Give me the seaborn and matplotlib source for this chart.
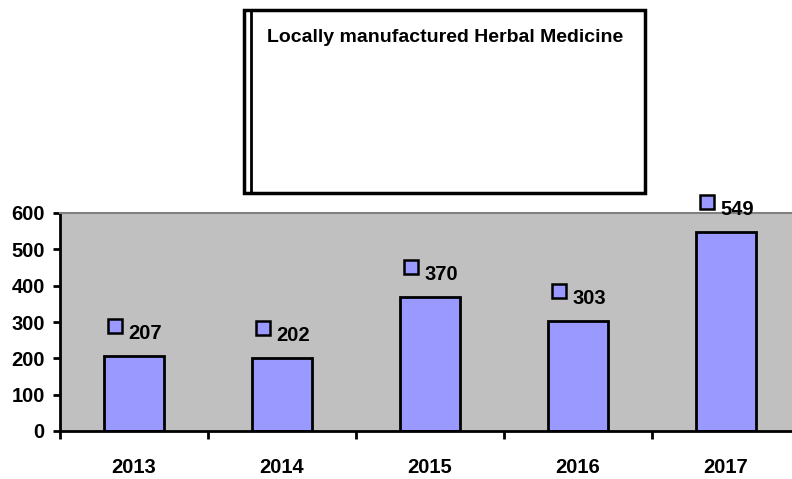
"""Bar chart: locally manufactured herbal medicine by year."""

import matplotlib
matplotlib.use("Agg")
import matplotlib.pyplot as plt
import matplotlib.transforms as mtransforms
from matplotlib.patches import Rectangle
from matplotlib.lines import Line2D
import seaborn as sns

years = ["2013", "2014", "2015", "2016", "2017"]
counts = [207, 202, 370, 303, 549]
title = "Locally manufactured Herbal Medicine"
y_ticks = [0, 100, 200, 300, 400, 500, 600]

BAR_COLOR = "#9999FF"
PLOT_BG = "#C0C0C0"
FONT_SIZE = 14.5

sns.set_style("ticks")
plt.rcParams["font.family"] = ["Liberation Sans", "DejaVu Sans"]
plt.rcParams["font.weight"] = "bold"
plt.rcParams["text.color"] = "black"
plt.rcParams["xtick.color"] = "black"
plt.rcParams["ytick.color"] = "black"

fig = plt.figure(figsize=(7.92, 4.79), dpi=100)
ax = fig.add_axes([60 / 792, 48 / 479, 740 / 792, 218 / 479])
ax.set_facecolor(PLOT_BG)

sns.barplot(x=years, y=counts, color=BAR_COLOR, saturation=1, width=0.4,
            edgecolor="black", linewidth=2, ax=ax)

ax.set_xlim(-0.5, len(years) - 0.5)
ax.set_ylim(0, 600)
ax.set_yticks(y_ticks)
ax.set_yticklabels([str(t) for t in y_ticks], fontsize=FONT_SIZE, fontweight="bold")

# category boundaries get the tick marks, centres get the labels
ax.set_xticks([i - 0.5 for i in range(len(years))])
ax.set_xticklabels([""] * len(years))
ax.set_xticks(range(len(years)), minor=True)
ax.set_xticklabels(years, minor=True, fontsize=FONT_SIZE, fontweight="bold")
ax.tick_params(axis="x", which="major", direction="out", length=6, width=2)
ax.tick_params(axis="x", which="minor", length=0, pad=19.5)
ax.tick_params(axis="y", direction="out", length=5, width=2, pad=6)
ax.set_xlabel("")
ax.set_ylabel("")

for side in ["left", "bottom"]:
    ax.spines[side].set_color("black")
    ax.spines[side].set_linewidth(2)
ax.spines["top"].set_color("#808080")
ax.spines["top"].set_linewidth(1.5)
ax.spines["right"].set_visible(False)

# small square markers and value labels above each bar
marker_tr = mtransforms.offset_copy(ax.transData, fig=fig, x=-19.5, y=29.5, units="dots")
ax.plot(range(len(years)), counts, linestyle="none", marker="s", markersize=10.5,
        markerfacecolor=BAR_COLOR, markeredgecolor="black", markeredgewidth=1.8,
        transform=marker_tr, clip_on=False)
for i, v in enumerate(counts):
    ax.annotate(str(v), (i, v), xytext=(-4, 16), textcoords="offset points",
                ha="left", va="center", fontsize=FONT_SIZE, fontweight="bold",
                annotation_clip=False)

# title box with a double rule on the left
fig.patches.append(Rectangle((244 / 792, 1 - 193 / 479), 401 / 792, 183 / 479,
                             transform=fig.transFigure, fill=False,
                             edgecolor="black", linewidth=2.5))
fig.lines.append(Line2D([251 / 792, 251 / 792], [1 - 193 / 479, 1 - 10 / 479],
                        transform=fig.transFigure, color="black", linewidth=2))
fig.text(445 / 792, 1 - 37 / 479, title, ha="center", va="center",
         fontsize=14, fontweight="bold")

fig.savefig("out.png", dpi=100)
